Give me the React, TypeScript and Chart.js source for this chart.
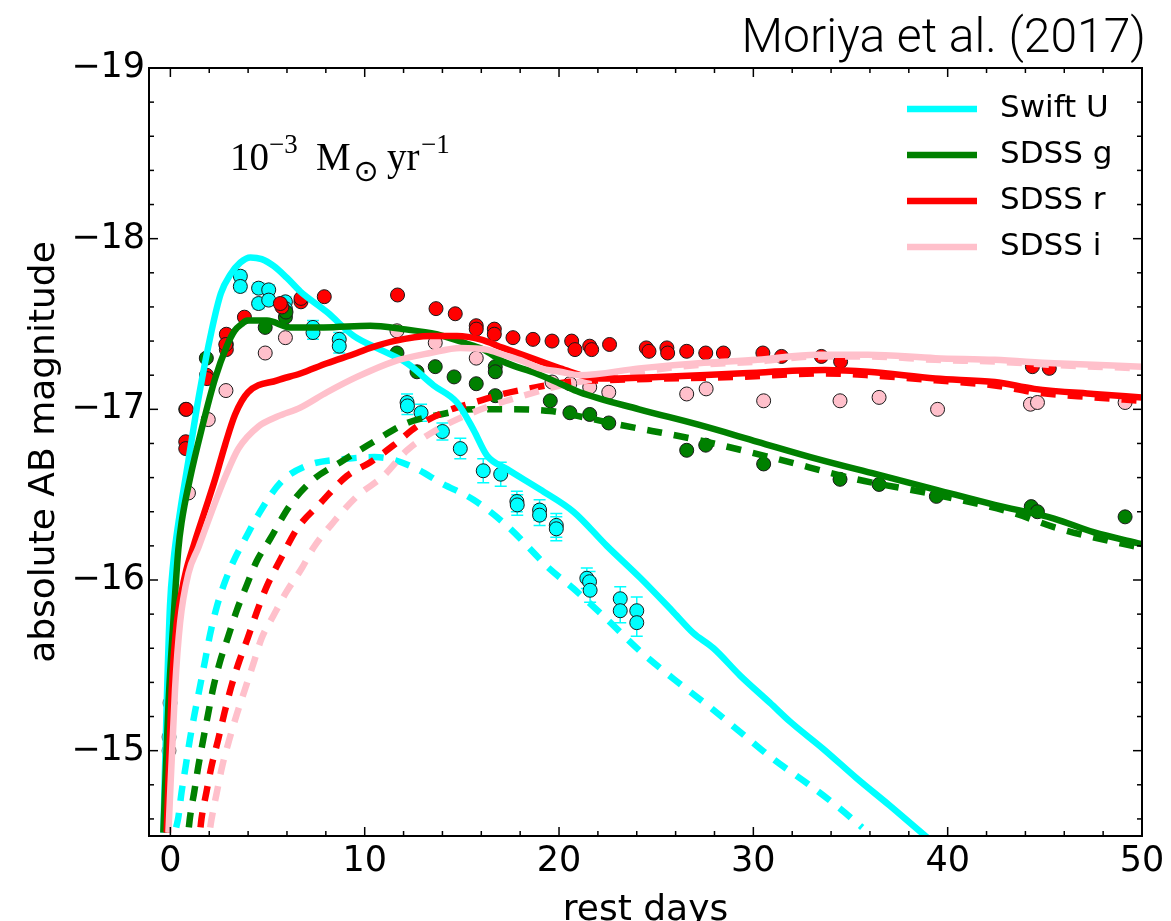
import React, { useEffect, useRef } from "react";
import { Chart, registerables } from "chart.js";

Chart.register(...registerables);

type Pair = [number, number];

// ---- model light curves (rest days, absolute AB magnitude) ----
const uModel: Pair[] = [
  [-0.36, -14.52], [-0.19, -15.27], [-0.02, -15.85], [0.15, -16.1], [0.5, -16.4], [0.93, -16.7],
  [1.44, -17.06], [2.12, -17.46], [2.6, -17.68], [3.09, -17.79], [3.6, -17.86], [4.12, -17.89],
  [4.7, -17.88], [5.31, -17.84], [6.0, -17.77], [6.69, -17.69], [8.06, -17.57], [9.43, -17.43],
  [10.8, -17.35], [12.18, -17.27], [13.55, -17.14], [14.75, -17.04], [15.6, -16.88], [16.29, -16.73],
  [17.32, -16.65], [19.03, -16.53], [20.74, -16.4], [22.46, -16.2], [24.2, -16.01], [25.9, -15.81],
  [26.9, -15.69], [27.95, -15.6], [29.32, -15.44], [30.86, -15.28], [31.89, -15.17], [33.6, -15.01],
  [35.3, -14.84], [37.0, -14.68], [38.75, -14.51], [39.6, -14.43],
];
const uModelNoCsm: Pair[] = [
  [0.3, -14.55], [0.41, -14.61], [0.58, -14.76], [0.79, -14.91], [1.01, -15.07], [1.27, -15.23],
  [1.53, -15.38], [1.79, -15.53], [2.04, -15.68], [2.38, -15.84], [2.81, -15.99], [3.33, -16.13],
  [3.84, -16.24], [4.46, -16.37], [5.66, -16.57], [7.03, -16.67], [9.09, -16.71], [10.5, -16.72],
  [11.3, -16.71], [12.7, -16.65], [13.9, -16.57], [15.6, -16.47], [17.3, -16.32], [18.7, -16.16],
  [19.37, -16.08], [20.74, -15.95], [22.46, -15.77], [24.2, -15.58], [25.9, -15.42], [27.6, -15.27],
  [29.32, -15.11], [31.03, -14.95], [32.75, -14.81], [34.47, -14.66], [35.6, -14.55],
];
const gModel: Pair[] = [
  [-0.36, -14.52], [-0.1, -15.27], [0.15, -15.75], [0.41, -16.18], [0.58, -16.34], [1.0, -16.59],
  [1.6, -16.88], [2.3, -17.18], [2.9, -17.37], [3.3, -17.46], [3.67, -17.5], [3.95, -17.52],
  [4.97, -17.52], [6.17, -17.48], [7.89, -17.48], [10.29, -17.49], [11.97, -17.47], [13.69, -17.44],
  [15.4, -17.38], [16.12, -17.35], [17.12, -17.28], [18.84, -17.21], [20.06, -17.15], [21.06, -17.1],
  [24.12, -17.0], [27.17, -16.91], [30.22, -16.81], [33.27, -16.71], [36.32, -16.62], [39.37, -16.53],
  [42.42, -16.44], [45.47, -16.36], [47.5, -16.28], [50, -16.21],
];
const gModelNoCsm: Pair[] = [
  [0.95, -14.55], [1.01, -14.61], [1.23, -14.76], [1.44, -14.91], [1.7, -15.07], [1.95, -15.22],
  [2.21, -15.37], [2.55, -15.52], [2.98, -15.67], [3.41, -15.82], [3.93, -15.97], [4.44, -16.11],
  [5.13, -16.24], [6.17, -16.44], [7.37, -16.59], [8.75, -16.69], [10.46, -16.81], [12.18, -16.92],
  [13.9, -16.97], [15.6, -17.0], [17.5, -17.0], [19.55, -16.99], [21.0, -16.96], [23.1, -16.91],
  [27.17, -16.82], [31.2, -16.71], [35.3, -16.59], [39.37, -16.5], [43.45, -16.39], [45.47, -16.31],
  [49.5, -16.2], [50, -16.19],
];
const rModel: Pair[] = [
  [-0.19, -14.52], [0.07, -15.36], [0.33, -15.75], [0.76, -16.03], [1.22, -16.21], [1.79, -16.41],
  [2.3, -16.59], [2.81, -16.79], [3.33, -16.97], [4.0, -17.1], [5.5, -17.17], [6.69, -17.21],
  [8.06, -17.27], [9.6, -17.33], [10.29, -17.36], [11.49, -17.4], [13.37, -17.43], [14.75, -17.43],
  [15.95, -17.41], [17.12, -17.36], [18.84, -17.29], [20.06, -17.24], [22.08, -17.18], [25.13, -17.19],
  [29.2, -17.21], [33.68, -17.23], [35.9, -17.22], [39.37, -17.18], [42.42, -17.16], [44.46, -17.12],
  [47.5, -17.09], [50, -17.07],
];
const rModelNoCsm: Pair[] = [
  [1.55, -14.55], [1.6, -14.6], [1.86, -14.76], [2.12, -14.91], [2.47, -15.07], [2.78, -15.22],
  [3.12, -15.37], [3.5, -15.51], [3.98, -15.66], [4.44, -15.81], [4.95, -15.96], [5.66, -16.12],
  [6.52, -16.3], [7.72, -16.45], [9.09, -16.61], [10.29, -16.69], [11.49, -16.79], [12.69, -16.9],
  [14.23, -16.99], [15.6, -17.04], [17.12, -17.09], [18.84, -17.13], [20.5, -17.16], [22.08, -17.17],
  [25.13, -17.18], [29.2, -17.19], [33.68, -17.21], [35.9, -17.2], [39.37, -17.17], [42.42, -17.14],
  [44.46, -17.1], [47.5, -17.07], [50, -17.05],
];
const iModel: Pair[] = [
  [-0.1, -14.52], [0.24, -15.36], [0.5, -15.75], [0.93, -16.04], [1.44, -16.19], [2.12, -16.4],
  [2.81, -16.6], [3.5, -16.77], [4.53, -16.9], [5.55, -16.96], [6.69, -17.01], [8.06, -17.1],
  [9.6, -17.19], [11.49, -17.28], [13.37, -17.33], [14.92, -17.36], [16.29, -17.35], [17.12, -17.32],
  [18.18, -17.28], [19.03, -17.24], [20.06, -17.22], [21.06, -17.2], [24.12, -17.24], [27.17, -17.27],
  [30.22, -17.29], [33.27, -17.32], [35.9, -17.32], [39.37, -17.3], [42.42, -17.29], [45.47, -17.27],
  [50, -17.25],
];
const iModelNoCsm: Pair[] = [
  [2.05, -14.55], [2.12, -14.6], [2.38, -14.75], [2.67, -14.91], [3.02, -15.06], [3.41, -15.21],
  [3.84, -15.36], [4.27, -15.51], [4.7, -15.66], [5.3, -15.79], [5.97, -15.93], [6.77, -16.07],
  [7.37, -16.19], [8.4, -16.34], [9.6, -16.49], [10.97, -16.61], [12.18, -16.76], [13.55, -16.87],
  [14.92, -16.95], [16.46, -17.02], [18.18, -17.08], [19.72, -17.13], [21.5, -17.17], [24.12, -17.22],
  [27.17, -17.26], [30.22, -17.28], [33.27, -17.31], [35.9, -17.31], [39.37, -17.29], [42.42, -17.28],
  [45.47, -17.26], [50, -17.24],
];

// ---- observed photometry ----
const uObs: Pair[] = [
  [3.6, -17.78], [3.6, -17.72], [4.54, -17.71], [4.54, -17.62], [5.06, -17.7], [5.06, -17.64],
  [5.92, -17.63], [5.92, -17.59], [7.34, -17.48], [7.34, -17.45], [8.69, -17.41], [8.69, -17.37],
  [12.18, -17.04], [12.2, -17.02], [12.9, -16.98], [14.0, -16.87], [14.92, -16.77], [16.1, -16.64],
  [17.0, -16.62], [17.83, -16.46], [17.85, -16.44], [19.0, -16.41], [19.0, -16.38], [19.86, -16.32],
  [19.86, -16.3], [21.43, -16.01], [21.57, -15.99], [21.6, -15.94], [23.15, -15.89], [23.15, -15.82],
  [24.0, -15.82], [24.0, -15.75],
];
const uObsErr: number[] = [
  0.03, 0.03, 0.03, 0.03, 0.03, 0.03,
  0.03, 0.03, 0.04, 0.04, 0.04, 0.04,
  0.05, 0.05, 0.05, 0.05, 0.06, 0.07,
  0.07, 0.06, 0.06, 0.06, 0.06, 0.07,
  0.07, 0.06, 0.06, 0.07, 0.07, 0.07,
  0.08, 0.08,
];
const gObs: Pair[] = [
  [0.79, -17.0], [1.85, -17.3], [2.88, -17.38], [4.88, -17.48], [5.92, -17.54], [5.95, -17.57],
  [11.66, -17.33], [12.69, -17.22], [13.63, -17.25], [14.6, -17.19], [15.74, -17.15], [16.72, -17.25],
  [16.72, -17.22], [16.72, -17.08], [19.55, -17.05], [20.56, -16.98], [21.58, -16.97], [22.56, -16.92],
  [26.57, -16.76], [27.55, -16.79], [30.53, -16.68], [34.46, -16.59], [36.47, -16.56], [39.42, -16.49],
  [44.3, -16.43], [44.62, -16.4], [49.13, -16.37],
];
const rObs: Pair[] = [
  [0.82, -17.0], [0.79, -16.81], [0.79, -16.77], [1.86, -17.2], [1.89, -17.18], [2.88, -17.44],
  [2.88, -17.35], [2.85, -17.38], [3.81, -17.54], [5.74, -17.6], [5.66, -17.62], [6.72, -17.63],
  [6.72, -17.65], [7.92, -17.66], [11.69, -17.67], [13.67, -17.59], [14.66, -17.56], [15.74, -17.49],
  [15.74, -17.47], [16.67, -17.47], [16.67, -17.44], [17.63, -17.42], [18.66, -17.41], [19.64, -17.4],
  [20.65, -17.4], [20.82, -17.35], [21.58, -17.37], [21.68, -17.35], [22.6, -17.38], [24.49, -17.36],
  [24.63, -17.34], [25.55, -17.36], [25.59, -17.33], [26.57, -17.34], [27.55, -17.33], [28.46, -17.33],
  [30.49, -17.33], [31.45, -17.31], [33.5, -17.31], [34.49, -17.28], [44.36, -17.25], [45.23, -17.24],
];
const iObs: Pair[] = [
  [0.93, -16.51], [1.95, -16.94], [2.86, -17.11], [4.88, -17.33], [5.92, -17.42], [11.66, -17.46],
  [13.63, -17.39], [15.74, -17.3], [19.64, -17.16], [20.56, -17.15], [21.58, -17.13], [22.56, -17.1],
  [26.57, -17.09], [27.57, -17.12], [30.53, -17.05], [34.46, -17.05], [36.47, -17.07], [39.48, -17.0],
  [44.26, -17.03], [44.62, -17.04], [49.13, -17.04],
];
const earlyObs: Pair[] = [[-0.02, -15.28], [-0.07, -15.08], [-0.07, -15.0]];

// ---- axes ----
const xMajorTicks = [0, 10, 20, 30, 40, 50];
const yMajorTicks = [-19, -18, -17, -16, -15];
const X_MIN = -1.1;
const X_MAX = 50;
const Y_TOP = -19;
const Y_BOTTOM = -14.5;

const CYAN = "#00FFFF";
const GREEN = "#008000";
const RED = "#FF0000";
const PINK = "#FFC0CB";

const toXY = (arr: Pair[]) => arr.map(([x, y]) => ({ x, y }));

const lineSet = (label: string, data: Pair[], color: string, dashed: boolean) => ({
  label,
  data: toXY(data),
  showLine: true,
  borderColor: color,
  backgroundColor: color,
  borderWidth: 6.5,
  borderDash: dashed ? [15, 12] : [],
  borderCapStyle: "butt",
  pointRadius: 0,
  cubicInterpolationMode: "monotone",
  inLegend: !dashed,
});

const pointSet = (label: string, data: Pair[], color: string, errs?: number[]) => ({
  label,
  data: toXY(data),
  showLine: false,
  backgroundColor: color,
  borderColor: "#1a1a1a",
  borderWidth: 1,
  pointRadius: 7,
  errorBars: errs,
});

const errorBarPlugin = {
  id: "errorBars",
  beforeDatasetsDraw(chart: any) {
    const { ctx } = chart;
    const xs = chart.scales.x;
    const ys = chart.scales.y;
    chart.data.datasets.forEach((ds: any) => {
      if (!ds.errorBars) return;
      ctx.save();
      ctx.strokeStyle = ds.backgroundColor;
      ctx.lineWidth = 1.5;
      ds.data.forEach((p: any, j: number) => {
        const e = ds.errorBars[j];
        const px = xs.getPixelForValue(p.x);
        const y1 = ys.getPixelForValue(p.y - e);
        const y2 = ys.getPixelForValue(p.y + e);
        ctx.beginPath();
        ctx.moveTo(px, y1);
        ctx.lineTo(px, y2);
        ctx.moveTo(px - 6, y1);
        ctx.lineTo(px + 6, y1);
        ctx.moveTo(px - 6, y2);
        ctx.lineTo(px + 6, y2);
        ctx.stroke();
      });
      ctx.restore();
    });
  },
};

const framePlugin = {
  id: "frame",
  afterDatasetsDraw(chart: any) {
    const { ctx, chartArea: a } = chart;
    const xs = chart.scales.x;
    const ys = chart.scales.y;
    ctx.save();
    ctx.strokeStyle = "#000";
    ctx.lineWidth = 1.5;
    const seg = (x1: number, y1: number, x2: number, y2: number) => {
      ctx.beginPath();
      ctx.moveTo(x1, y1);
      ctx.lineTo(x2, y2);
      ctx.stroke();
    };
    // inward ticks on all four sides: majors long, minors short
    for (let k = 0; k <= 25; k++) {
      const v = k * 2;
      const len = v % 10 === 0 ? 9 : 5;
      const px = xs.getPixelForValue(v);
      seg(px, a.bottom, px, a.bottom - len);
      seg(px, a.top, px, a.top + len);
    }
    for (let k = 0; k <= 22; k++) {
      const v = Math.round((-19 + k * 0.2) * 10) / 10;
      const len = k % 5 === 0 ? 9 : 5;
      const py = ys.getPixelForValue(v);
      seg(a.left, py, a.left + len, py);
      seg(a.right, py, a.right - len, py);
    }
    ctx.lineWidth = 2;
    ctx.strokeRect(a.left, a.top, a.right - a.left, a.bottom - a.top);
    ctx.restore();
  },
  afterDraw(chart: any) {
    const { ctx, chartArea: a } = chart;
    ctx.save();
    ctx.fillStyle = "#000";

    // axis titles
    ctx.font = "36px 'DejaVu Sans'";
    ctx.textAlign = "center";
    ctx.textBaseline = "alphabetic";
    ctx.fillText("rest days", (a.left + a.right) / 2, a.bottom + 84);
    ctx.save();
    ctx.translate(a.left - 95, (a.top + a.bottom) / 2);
    ctx.rotate(-Math.PI / 2);
    ctx.fillText("absolute AB magnitude", 0, 0);
    ctx.restore();

    // citation in the top-right corner
    ctx.textAlign = "right";
    ctx.font = "300 48px Roboto";
    ctx.fillText("Moriya et al. (2017)", a.right + 4, a.top - 16);

    // mass-loss rate label
    ctx.textAlign = "left";
    const bx = a.left + 81;
    const by = a.top + 102;
    ctx.font = "39px 'Liberation Serif'";
    ctx.fillText("10", bx, by);
    ctx.font = "27px 'Liberation Serif'";
    ctx.fillText("\u22123", bx + 39, by - 17);
    ctx.font = "39px 'Liberation Serif'";
    ctx.fillText("M", bx + 86, by);
    ctx.font = "30px 'DejaVu Sans'";
    ctx.textAlign = "center";
    ctx.textBaseline = "middle";
    ctx.fillText("\u2299", bx + 136, by + 3);
    ctx.textAlign = "left";
    ctx.textBaseline = "alphabetic";
    ctx.font = "39px 'Liberation Serif'";
    ctx.fillText("yr", bx + 157, by);
    ctx.font = "27px 'Liberation Serif'";
    ctx.fillText("\u22121", bx + 191, by - 17);

    // legend
    const entries = chart.data.datasets.filter((d: any) => d.inLegend);
    const order = ["Swift U", "SDSS g", "SDSS r", "SDSS i"];
    entries.sort((p: any, q: any) => order.indexOf(p.label) - order.indexOf(q.label));
    ctx.font = "31px 'DejaVu Sans'";
    ctx.textBaseline = "middle";
    entries.forEach((d: any, i: number) => {
      const y = a.top + 41 + i * 46;
      ctx.strokeStyle = d.borderColor;
      ctx.lineWidth = 6.5;
      ctx.beginPath();
      ctx.moveTo(a.right - 235, y);
      ctx.lineTo(a.right - 165, y);
      ctx.stroke();
      ctx.fillStyle = "#000";
      ctx.fillText(d.label, a.right - 142, y);
    });
    ctx.restore();
  },
};

export default function App() {
  const canvasRef = useRef<HTMLCanvasElement>(null);

  useEffect(() => {
    const canvas = canvasRef.current;
    if (!canvas) return;

    // first dataset is drawn on top: model curves above the photometry
    const datasets: any[] = [
      lineSet("SDSS i", iModel, PINK, false),
      lineSet("SDSS r", rModel, RED, false),
      lineSet("SDSS g", gModel, GREEN, false),
      lineSet("Swift U", uModel, CYAN, false),
      lineSet("SDSS i (no CSM)", iModelNoCsm, PINK, true),
      lineSet("SDSS r (no CSM)", rModelNoCsm, RED, true),
      lineSet("SDSS g (no CSM)", gModelNoCsm, GREEN, true),
      lineSet("Swift U (no CSM)", uModelNoCsm, CYAN, true),
      pointSet("i data", iObs, PINK),
      pointSet("r data", rObs, RED),
      pointSet("g data", gObs, GREEN),
      pointSet("U data", uObs, CYAN, uObsErr),
      { ...pointSet("early data", earlyObs, "rgba(200,80,80,0.3)"), borderColor: "rgba(0,0,0,0.6)" },
    ];

    const tickFont = { family: "'DejaVu Sans'", size: 35 };

    const chart = new Chart(canvas, {
      type: "scatter",
      data: { datasets },
      options: {
        responsive: false,
        animation: false,
        devicePixelRatio: 1,
        events: [],
        layout: { padding: { top: 68, right: 29, left: 0, bottom: 0 } },
        plugins: { legend: { display: false }, tooltip: { enabled: false } },
        scales: {
          x: {
            type: "linear",
            min: X_MIN,
            max: X_MAX,
            grid: { display: false, drawTicks: false },
            border: { display: false },
            ticks: {
              font: tickFont,
              color: "#000",
              padding: 5,
              maxRotation: 0,
              autoSkip: false,
              callback: (v: any) => String(v),
            },
            afterBuildTicks: (s: any) => {
              s.ticks = xMajorTicks.map((value) => ({ value }));
            },
            afterFit: (s: any) => {
              s.height = 85;
            },
          },
          y: {
            type: "linear",
            min: Y_TOP,
            max: Y_BOTTOM,
            reverse: true,
            grid: { display: false, drawTicks: false },
            border: { display: false },
            ticks: {
              font: tickFont,
              color: "#000",
              padding: 4,
              autoSkip: false,
              callback: (v: any) => "\u2212" + Math.abs(Number(v)),
            },
            afterBuildTicks: (s: any) => {
              s.ticks = yMajorTicks.map((value) => ({ value }));
            },
            afterFit: (s: any) => {
              s.width = 149;
            },
          },
        },
      } as any,
      plugins: [errorBarPlugin, framePlugin],
    });

    return () => chart.destroy();
  }, []);

  return (
    <div style={{ position: "absolute", left: 0, top: 0, width: 1171, height: 921, background: "#fff" }}>
      <canvas ref={canvasRef} width={1171} height={921} style={{ display: "block", width: 1171, height: 921 }} />
    </div>
  );
}
